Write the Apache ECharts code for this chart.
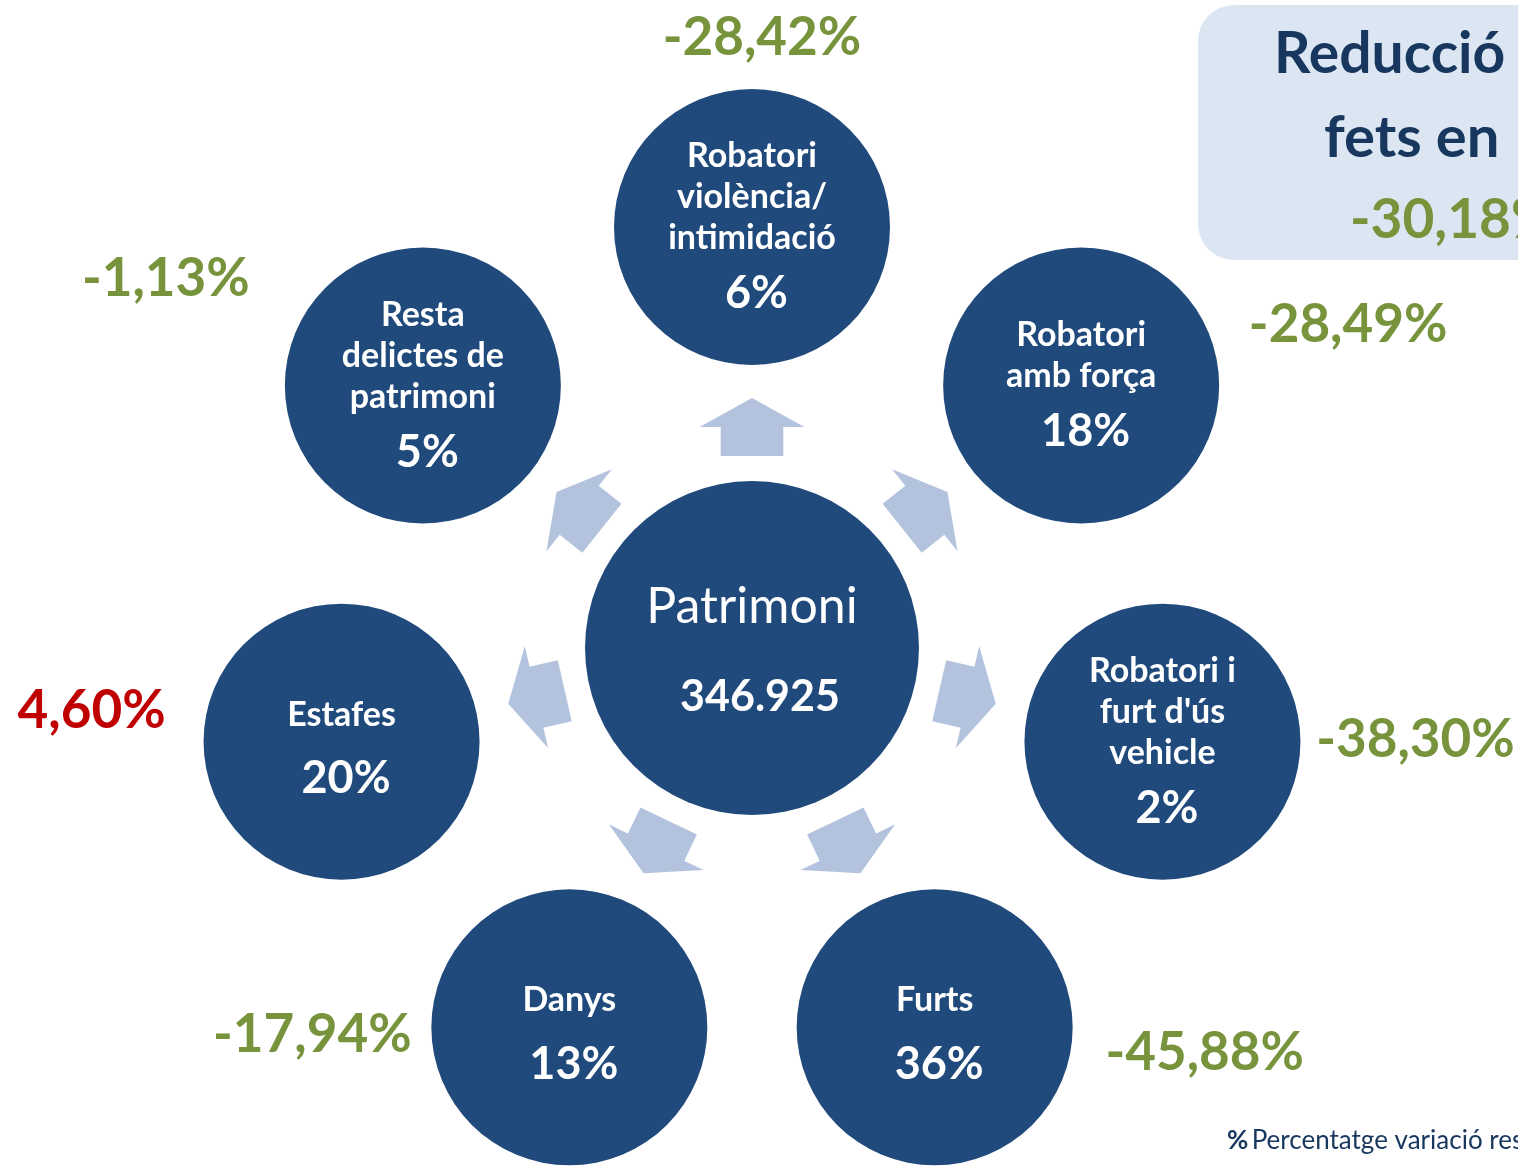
<!DOCTYPE html>
<html><head><meta charset="utf-8">
<script src="https://cdn.jsdelivr.net/npm/echarts@6/dist/echarts.min.js"></script>
<style>html,body{margin:0;padding:0;background:#fff}#c{width:1518px;height:1167px}</style>
</head><body><div id="c"></div>
<script>
// ---- data ----
const categories = [
  'Robatori\nviolència/\nintimidació',
  'Robatori\namb força',
  "Robatori i\nfurt d'ús\nvehicle",
  'Furts',
  'Danys',
  'Estafes',
  'Resta\ndelictes de\npatrimoni'
];
const shares = [6, 18, 2, 36, 13, 20, 5];            // % of total
const changes = [-28.42, -28.49, -38.30, -45.88, -17.94, 4.60, -1.13]; // % variation
const centerName = 'Patrimoni';
const centerTotal = 346925;
const totalChange = -30.18;
const titleLines = ['Reducció', 'fets en'];
const noteText = 'Percentatge variació respecte';

// ---- layout / style ----
const N = categories.length;
const BLUE = '#204A7C', ARROW = '#B3C3DE', GREEN = '#77933C', RED = '#C00000', NAVY = '#17375E';
const FONT = 'Lato';
const ARROW_R = 0.525;
const CHANGE_OFFSETS = [[10,-189],[267,-61],[253,-2],[270,26],[-257,8],[-250,-31],[-257,-107]];

const fmtPct = v => v.toFixed(2).replace('.', ',') + '%';
const fmtInt = v => String(v).replace(/\B(?=(\d{3})+(?!\d))/g, '.');

function catLabel(p) {
  const lines = categories[p.dataIndex].split('\n');
  const single = lines.length === 1;
  return lines.map(l => '{' + (single ? 'n1' : 'n') + '|' + l + '}').join('\n') +
    '\n{' + (single ? 'p1' : 'p') + '|' + shares[p.dataIndex] + '%}';
}

const chart = echarts.init(document.getElementById('c'), null, {renderer: 'canvas'});
chart.setOption({
  animation: false,
  backgroundColor: '#ffffff',
  polar: {center: [752, 648], radius: 421},
  angleAxis: {type: 'category', data: categories, startAngle: 90, clockwise: true, boundaryGap: false, show: false},
  radiusAxis: {type: 'value', min: 0, max: 1, show: false},
  graphic: [
    {type: 'rect', shape: {x: 1198, y: 5, width: 420, height: 255, r: 36}, style: {fill: '#DCE6F2'}, z: 0},
    {type: 'text', x: 1274, y: 55, style: {text: titleLines[0], fill: NAVY, fontFamily: FONT, fontWeight: 'bold', fontSize: 57, textVerticalAlign: 'middle'}},
    {type: 'text', x: 1324, y: 138, style: {text: titleLines[1], fill: NAVY, fontFamily: FONT, fontWeight: 'bold', fontSize: 58, textVerticalAlign: 'middle'}},
    {type: 'text', x: 1350, y: 220, style: {text: fmtPct(totalChange), fill: GREEN, fontFamily: FONT, fontWeight: 'bold', fontSize: 55, textVerticalAlign: 'middle'}},
    {type: 'text', x: 1227, y: 1141, style: {text: '{b|%} {r|' + noteText + '}', textVerticalAlign: 'middle',
      rich: {b: {fill: NAVY, fontFamily: FONT, fontWeight: 'bold', fontSize: 26}, r: {fill: NAVY, fontFamily: FONT, fontSize: 26}}}}
  ],
  series: [
    {
      type: 'scatter', coordinateSystem: 'polar', name: 'arrows', silent: true,
      symbol: 'path://M0,0 L52,29 L31,29 L31,58 L-31,58 L-31,29 L-52,29 Z',
      symbolSize: [105, 58],
      symbolRotate: (v, p) => -p.dataIndex * 360 / N,
      itemStyle: {color: ARROW, opacity: 1},
      data: categories.map((c, i) => [ARROW_R, i])
    },
    {
      type: 'scatter', coordinateSystem: 'polar', name: 'centre',
      symbol: 'circle', symbolSize: 334,
      itemStyle: {color: BLUE, opacity: 1},
      label: {show: true, position: 'inside', offset: [0, 4],
        formatter: () => '{t|' + centerName + '}\n{v|' + fmtInt(centerTotal) + '}',
        rich: {
          t: {color: '#fff', fontFamily: FONT, fontSize: 50, lineHeight: 90},
          v: {color: '#fff', fontFamily: FONT, fontWeight: 'bold', fontSize: 43, lineHeight: 90, padding: [0, 0, 0, 16]}
        }},
      data: [[0, 0]]
    },
    {
      type: 'scatter', coordinateSystem: 'polar', name: 'categories',
      symbol: 'circle', symbolSize: 276,
      itemStyle: {color: BLUE, opacity: 1},
      label: {show: true, position: 'inside', offset: [0, 5], formatter: catLabel,
        rich: {
          n: {color: '#fff', fontFamily: FONT, fontWeight: 'bold', fontSize: 34, lineHeight: 41},
          p: {color: '#fff', fontFamily: FONT, fontWeight: 'bold', fontSize: 45, lineHeight: 69, padding: [0, 0, 0, 9]},
          n1: {color: '#fff', fontFamily: FONT, fontWeight: 'bold', fontSize: 34, lineHeight: 64},
          p1: {color: '#fff', fontFamily: FONT, fontWeight: 'bold', fontSize: 45, lineHeight: 64, padding: [0, 0, 0, 9]}
        }},
      data: shares.map((s, i) => [1, i])
    },
    {
      type: 'scatter', coordinateSystem: 'polar', name: 'changes', silent: true,
      symbol: 'circle', symbolSize: 1,
      itemStyle: {color: 'rgba(0,0,0,0)', opacity: 1},
      data: changes.map((c, i) => ({
        value: [1, i],
        label: {show: true, position: 'inside', offset: CHANGE_OFFSETS[i], opacity: 1,
          formatter: fmtPct(c), color: c >= 0 ? RED : GREEN,
          fontFamily: FONT, fontWeight: 'bold', fontSize: 53}
      }))
    }
  ]
});
</script>
</body></html>
